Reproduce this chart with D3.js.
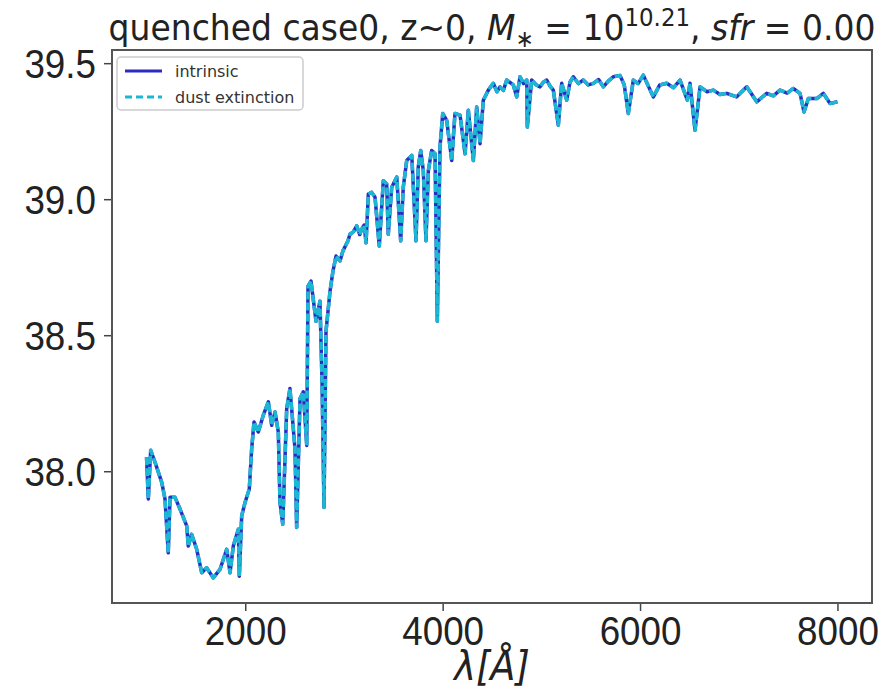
<!DOCTYPE html>
<html>
<head>
<meta charset="utf-8">
<script src="https://cdn.jsdelivr.net/npm/d3@7"></script>
<style>
  html, body { margin: 0; padding: 0; background: #fff; }
  svg { display: block; font-family: "DejaVu Sans", sans-serif; }
</style>
</head>
<body>
<div id="place"></div>
<script>
// wavelength (Angstrom)
const lambda = [1000, 1018, 1042, 1086, 1154, 1187, 1220, 1238, 1288, 1339,
  1407, 1423, 1457, 1508, 1559, 1609, 1676, 1744, 1812, 1846,
  1879, 1930, 1940, 1964, 1998, 2041, 2065, 2089, 2132, 2183,
  2234, 2268, 2302, 2335, 2352, 2380, 2420, 2453, 2504, 2521,
  2555, 2588, 2623, 2636, 2666, 2717, 2757, 2778, 2798, 2818,
  2859, 2889, 2920, 2960, 2990, 3041, 3061, 3095, 3129, 3160, 3180, 3205, 3224,
  3247, 3281, 3315, 3358, 3399, 3433, 3449, 3484, 3535, 3575,
  3601, 3636, 3687, 3730, 3753, 3778, 3804, 3831, 3855, 3889,
  3923, 3946, 3973, 4001, 4041, 4092, 4125, 4176, 4227, 4260,
  4311, 4345, 4379, 4412, 4463, 4513, 4550, 4581, 4615, 4649, 4716, 4750,
  4784, 4820, 4852, 4858, 4902, 4950, 4987, 5020, 5054, 5090, 5121, 5172, 5206, 5257,
  5290, 5324, 5375, 5425, 5475, 5527, 5580, 5628, 5680, 5729, 5797, 5840, 5881, 5932, 5980, 6033, 6135,
  6200, 6270, 6340, 6405, 6479, 6506, 6557, 6608, 6680, 6743, 6810, 6878, 6979, 7030, 7081,
  7182, 7283, 7350, 7418, 7490, 7553, 7621, 7661, 7705, 7790, 7857, 7925, 8000];

// log luminosity, intrinsic spectrum
const intrinsic = [38.052, 37.898, 38.077, 38.033, 37.959, 37.898, 37.700, 37.904, 37.904, 37.861,
  37.799, 37.725, 37.768, 37.713, 37.627, 37.645, 37.608, 37.639, 37.713, 37.627,
  37.725, 37.787, 37.614, 37.836, 37.885, 37.935, 38.082, 38.181, 38.144, 38.206,
  38.255, 38.169, 38.218, 38.144, 37.885, 37.805, 38.230, 38.304, 38.082, 37.793,
  38.267, 38.292, 38.095, 38.680, 38.699, 38.551, 38.625, 38.329, 37.867, 38.514,
  38.662, 38.736, 38.791, 38.773, 38.810, 38.847, 38.871, 38.880, 38.902, 38.870, 38.890, 38.905, 38.840,
  39.019, 39.025, 39.007, 38.828, 39.068, 39.056, 38.871, 39.044, 39.081, 38.847,
  39.044, 39.142, 39.161, 38.847, 39.118, 39.179, 39.105, 38.847, 39.105, 39.179,
  39.167, 38.551, 39.191, 39.315, 39.290, 39.142, 39.315, 39.309, 39.167, 39.327,
  39.142, 39.339, 39.204, 39.364, 39.401, 39.426, 39.395, 39.413, 39.400, 39.438, 39.420, 39.376,
  39.450, 39.425, 39.438, 39.265, 39.438, 39.420, 39.413, 39.430, 39.438, 39.415, 39.401, 39.272, 39.426, 39.364,
  39.430, 39.450, 39.425, 39.438, 39.420, 39.426, 39.440, 39.413, 39.435, 39.450, 39.455, 39.420, 39.315, 39.438, 39.425, 39.456, 39.376,
  39.420, 39.426, 39.410, 39.438, 39.364, 39.426, 39.253, 39.413, 39.395, 39.401, 39.385, 39.389, 39.376, 39.395, 39.413,
  39.358, 39.389, 39.380, 39.401, 39.390, 39.407, 39.389, 39.321, 39.370, 39.370, 39.389, 39.352, 39.358];

// the dust-extincted spectrum lies on top of the intrinsic one (quenched, no dust)
const dustExtinction = intrinsic.slice();

const xTicks = [2000, 4000, 6000, 8000];
const yTicks = [38.0, 38.5, 39.0, 39.5];

const W = 886, H = 696;
const margin = { top: 50, right: 14, bottom: 93, left: 112 };
const width = W - margin.left - margin.right,
      height = H - margin.top - margin.bottom;
const squeeze = 0.92; // the picture is a bit narrower than it is tall

const svg = d3.select("#place").append("svg")
  .attr("width", W).attr("height", H);

const g = svg.append("g")
  .attr("transform", "translate(" + margin.left + "," + margin.top + ")");

// matplotlib style 5% margins
const xr = 8000 - 1000;
const x = d3.scaleLinear()
  .domain([1000 - 0.05 * xr, 8000 + 0.05 * xr])
  .range([0, width]);
const yMin = d3.min(intrinsic), yMax = d3.max(intrinsic), yr = yMax - yMin;
const y = d3.scaleLinear()
  .domain([yMin - 0.05 * yr, yMax + 0.05 * yr])
  .range([height, 0]);

g.append("clipPath").attr("id", "clip")
  .append("rect").attr("width", width).attr("height", height);

const line = d3.line()
  .x((d, i) => x(lambda[i]))
  .y(d => y(d));

const plot = g.append("g").attr("clip-path", "url(#clip)");
plot.append("path")
  .attr("d", line(intrinsic))
  .attr("fill", "none")
  .attr("stroke", "#2d2ac4")
  .attr("stroke-width", 3.5)
  .attr("stroke-linejoin", "round");
plot.append("path")
  .attr("d", line(dustExtinction))
  .attr("fill", "none")
  .attr("stroke", "#1ab8d2")
  .attr("stroke-width", 3.5)
  .attr("stroke-dasharray", "8,3")
  .attr("stroke-linejoin", "round");

// axes
const xAxis = g.append("g")
  .attr("transform", "translate(0," + height + ")")
  .call(d3.axisBottom(x).tickValues(xTicks).tickSize(8).tickPadding(6).tickFormat(d3.format("d")));
xAxis.selectAll("text")
  .attr("font-size", 40)
  .attr("fill", "#222")
  .attr("transform", "scale(" + squeeze + ",1)");

const yAxis = g.append("g")
  .call(d3.axisLeft(y).tickValues(yTicks).tickSize(8).tickFormat(d3.format(".1f")));
yAxis.selectAll("text")
  .attr("font-size", 40)
  .attr("fill", "#222")
  .attr("x", -16 / squeeze)
  .attr("dy", "0.36em")
  .attr("transform", "scale(" + squeeze + ",1)");

svg.selectAll(".domain").remove();
svg.selectAll(".tick line").attr("stroke", "#444").attr("stroke-width", 1.5);

g.append("rect")
  .attr("width", width).attr("height", height)
  .attr("fill", "none")
  .attr("stroke", "#555")
  .attr("stroke-width", 2);

// x label
svg.append("text")
  .attr("transform", "translate(" + (margin.left + width / 2) + ",680) scale(" + squeeze + ",1)")
  .attr("text-anchor", "middle")
  .attr("font-size", 40)
  .attr("fill", "#222")
  .attr("font-style", "italic")
  .text("λ[Å]");

// title
const title = svg.append("text")
  .attr("text-anchor", "middle")
  .attr("font-size", 36)
  .attr("fill", "#222");
title.append("tspan").text("quenched case0, z~0, ");
title.append("tspan").attr("font-style", "italic").text("M");
title.append("tspan").attr("font-size", 24).attr("dy", 7).text("∗");
title.append("tspan").attr("dy", -7).text(" = 10");
title.append("tspan").attr("font-size", 25).attr("dy", -14).text("10.21");
title.append("tspan").attr("dy", 14).text(", ");
title.append("tspan").attr("font-style", "italic").text("sfr");
title.append("tspan").text(" = 0.00");
const tw = title.node().getBBox().width;
title.attr("transform", "translate(" + (margin.left + width / 2) + ",40) scale(" + (767 / tw) + ",1)");

// legend
const legend = g.append("g").attr("transform", "translate(5,7)");
legend.append("rect")
  .attr("width", 186).attr("height", 53).attr("rx", 4)
  .attr("fill", "#fff").attr("fill-opacity", 0.8)
  .attr("stroke", "#ccc").attr("stroke-width", 1.5);
const entries = [
  { name: "intrinsic", color: "#2d2ac4", dash: null },
  { name: "dust extinction", color: "#1ab8d2", dash: "7,4" }
];
entries.forEach((e, i) => {
  const yy = 14 + i * 26;
  legend.append("line")
    .attr("x1", 8).attr("x2", 45).attr("y1", yy).attr("y2", yy)
    .attr("stroke", e.color).attr("stroke-width", 3)
    .attr("stroke-dasharray", e.dash);
  legend.append("text")
    .attr("x", 58).attr("y", yy).attr("dy", "0.35em")
    .attr("font-size", 16).attr("fill", "#333")
    .text(e.name);
});
</script>
</body>
</html>
